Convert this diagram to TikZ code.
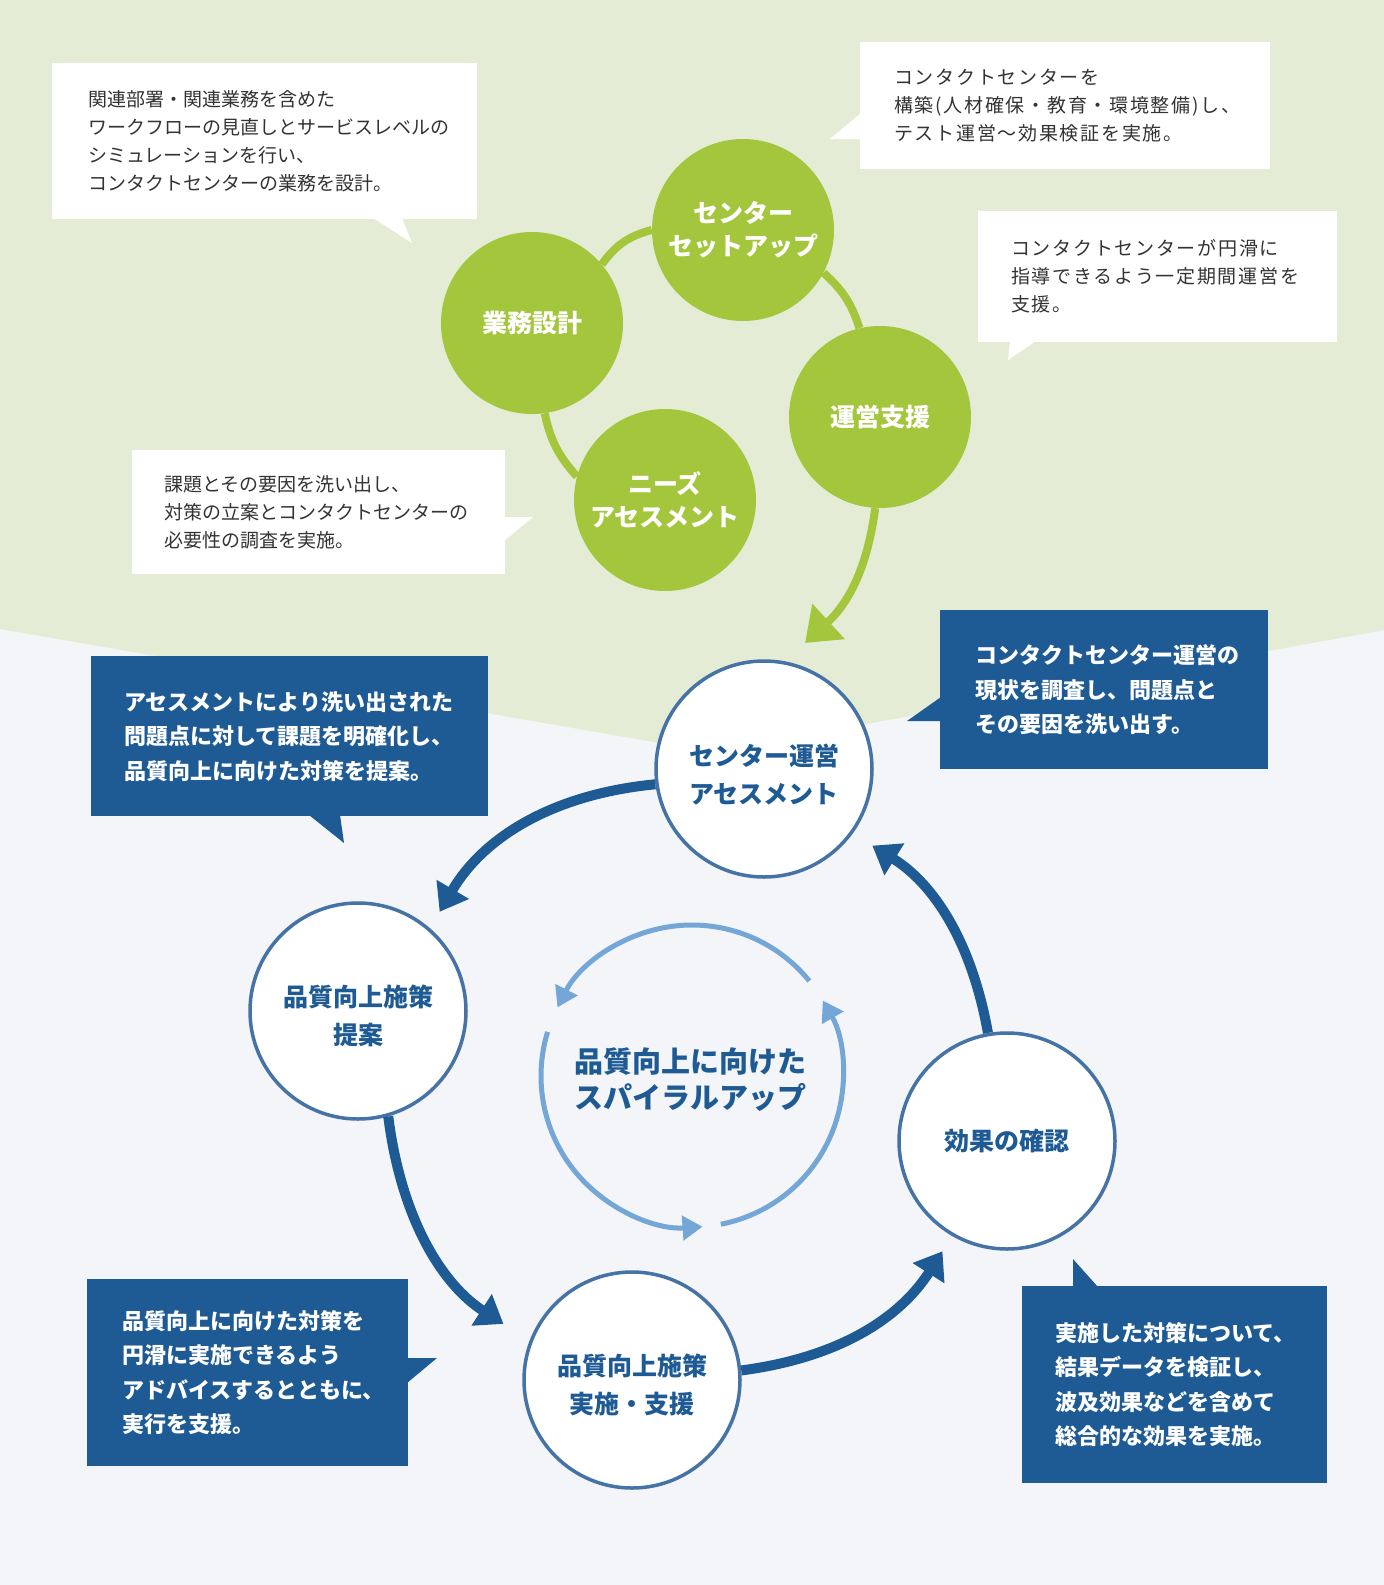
\documentclass[tikz,border=0pt]{standalone}
\usepackage{fontspec}
\setmainfont{Noto Sans CJK JP}
\usetikzlibrary{arrows.meta}
\definecolor{bggreen}{HTML}{E5ECD5}
\definecolor{bggray}{HTML}{F3F5F8}
\definecolor{leaf}{HTML}{A3C63C}
\definecolor{navy}{HTML}{1E5A94}
\definecolor{rim}{HTML}{4573A6}
\definecolor{sky}{HTML}{74A7D7}
\definecolor{ink}{HTML}{333333}
\begin{document}
\begin{tikzpicture}[x=1pt,y=-1pt,
  note/.style={rectangle,fill=white,text=ink,anchor=north west,align=left,inner ysep=0pt,font=\fontsize{19}{28}\selectfont},
  wide/.style={font=\fontsize{19}{28}\selectfont\addfontfeature{LetterSpace=9}},
  bnote/.style={rectangle,fill=navy,text=white,anchor=north west,align=left,inner ysep=0pt,font=\fontsize{22}{34.5}\selectfont\bfseries},
  leafc/.style={circle,fill=leaf,text=white,minimum size=182pt,inner sep=0pt,align=center,font=\fontsize{25}{33}\selectfont\bfseries},
  ringc/.style={circle,draw=rim,line width=3.5pt,fill=white,text=navy,minimum size=216pt,inner sep=0pt,align=center,font=\fontsize{25}{38}\selectfont\bfseries},
  sink/.style={text height=70pt},
  leafline/.style={leaf,line width=8pt},
  bigarrow/.style={navy,line width=10pt,-{Triangle[length=26pt,width=36pt]}},
  spiral/.style={sky,line width=5pt,-{Triangle[length=20pt,width=24pt]}}]
\useasboundingbox (0,0) rectangle (1384,1585);
\fill[bggray] (0,0) rectangle (1384,1585);
\fill[bggreen] (0,0) -- (0,629) -- (712,752) -- (1384,630) -- (1384,0) -- cycle;
%top notes
\node[note,inner xsep=36pt,text width=353pt,minimum height=156pt] (designnote) at (52,63) {関連部署・関連業務を含めた\\ワークフローの見直しとサービスレベルの\\シミュレーションを行い、\\コンタクトセンターの業務を設計。};
\fill[white] (373,218) -- (412,243) -- (402,218) -- cycle;
\node[note,wide,inner xsep=34pt,text width=342pt,minimum height=127pt] (setupnote) at (860,42) {コンタクトセンターを\\構築(人材確保・教育・環境整備)し、\\テスト運営〜効果検証を実施。};
\fill[white] (861,113) -- (830,139) -- (861,139) -- cycle;
\node[note,wide,inner xsep=33pt,text width=293pt,minimum height=131pt] (supportnote) at (978,211) {コンタクトセンターが円滑に\\指導できるよう一定期間運営を\\支援。};
\fill[white] (1010,341) -- (1008,360) -- (1036,341) -- cycle;
\node[note,inner xsep=32pt,text width=309pt,minimum height=124pt] (needsnote) at (132,450) {課題とその要因を洗い出し、\\対策の立案とコンタクトセンターの\\必要性の調査を実施。};
\fill[white] (504,517) -- (533,517) -- (504,541) -- cycle;
%green cycle
\node[leafc] (setup) at (743,230) {センター\\セットアップ};
\node[leafc] (design) at (532,323) {業務設計};
\node[leafc] (support) at (880,417) {運営支援};
\node[leafc] (needs) at (665,500) {ニーズ\\アセスメント};
\coordinate (gtip) at (805,643);
\draw[leafline] (needs.165) to[bend left=15] (design.278);
\draw[leafline] (design.40) to[bend left=20] (setup.180);
\draw[leafline] (setup.332) to[bend left=15] (support.103);
\draw[leafline,-{Triangle[length=32pt,width=46pt]}] (support.267) to[bend left=20] (gtip);
%bottom notes
\node[bnote,inner xsep=33pt,text width=331pt,minimum height=160pt] (proposenote) at (91,656) {アセスメントにより洗い出された\\問題点に対して課題を明確化し、\\品質向上に向けた対策を提案。};
\fill[navy] (309,815) -- (344,843) -- (340,815) -- cycle;
\node[bnote,inner xsep=35pt,text width=258pt,minimum height=159pt] (assessnote) at (940,610) {コンタクトセンター運営の\\現状を調査し、問題点と\\その要因を洗い出す。};
\fill[navy] (941,697) -- (907,721) -- (941,721) -- cycle;
\node[bnote,inner xsep=35pt,text width=251pt,minimum height=187pt] (implementnote) at (87,1279) {品質向上に向けた対策を\\円滑に実施できるよう\\アドバイスするとともに、\\実行を支援。};
\fill[navy] (407,1358) -- (437,1358) -- (407,1383) -- cycle;
\node[bnote,inner xsep=33pt,text width=239pt,minimum height=197pt] (verifynote) at (1022,1286) {実施した対策について、\\結果データを検証し、\\波及効果などを含めて\\総合的な効果を実施。};
\fill[navy] (1073,1287) -- (1073,1259) -- (1098,1287) -- cycle;
%blue cycle
\node[ringc,sink] (assess) at (764,769) {センター運営\\アセスメント};
\node[ringc,sink] (propose) at (358,1011) {品質向上施策\\提案};
\node[ringc] (verify) at (1007,1141) {効果の確認};
\node[ringc,sink] (implement) at (632,1380) {品質向上施策\\実施・支援};
\draw[bigarrow,shorten >=19pt] (assess.188) to[bend right=27] (propose.49);
\draw[bigarrow,shorten >=31pt] (propose.286) to[bend right=25] (implement.159);
\draw[bigarrow,shorten >=18pt] (implement.5) to[bend right=25] (verify.240);
\draw[bigarrow,shorten >=23pt] (verify.100) to[bend right=24] (assess.324);
%spiral
\coordinate (hub) at (692,1076);
\node[text=navy,align=center,font=\fontsize{29}{36}\selectfont\bfseries] (motto) at (690,1080) {品質向上に向けた\\スパイラルアップ};
\draw[spiral] (hub) ++(-39:151) arc[start angle=-39,end angle=-153,radius=151];
\draw[spiral] (hub) ++(-163:151) arc[start angle=-163,end angle=-274,radius=151];
\draw[spiral] (hub) ++(-281:151) arc[start angle=-281,end angle=-390,radius=151];
\end{tikzpicture}
\end{document}
